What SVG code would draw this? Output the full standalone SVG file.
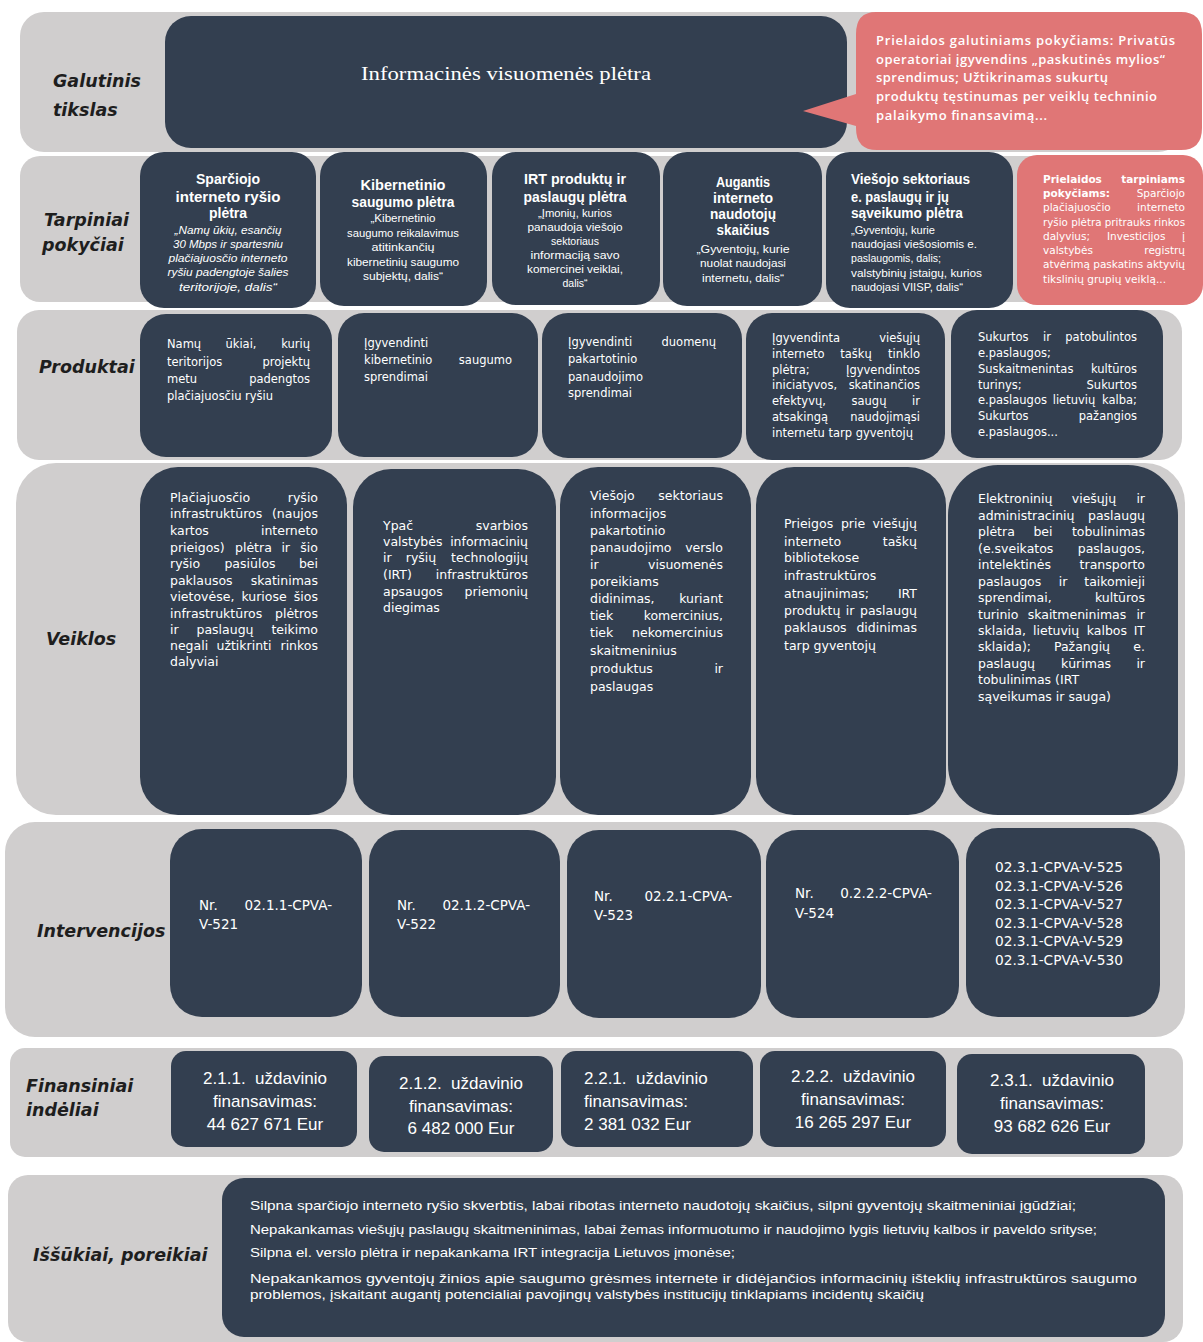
<svg xmlns="http://www.w3.org/2000/svg" width="1203" height="1342" viewBox="0 0 1203 1342">
<style>
.gb{fill:#d0cece}
.bx{fill:#333f50}
.rd{fill:#e07676}
.lbl{font-family:"DejaVu Sans",sans-serif;font-weight:bold;font-style:italic;font-size:17.5px;fill:#1e1e1e}
.w{fill:#fff;font-family:"Liberation Sans",sans-serif}
.ttl{font-size:14px;font-weight:bold;text-anchor:middle}
.ttlL{font-size:14px;font-weight:bold}
.sm{font-size:10.5px;text-anchor:middle}
.smi{font-size:10.5px;font-style:italic;text-anchor:middle}
.smL{font-size:10.5px}
.p{font-size:11.5px;font-family:"DejaVu Sans",sans-serif}
.v{font-size:12.5px;font-family:"DejaVu Sans",sans-serif}
.iv{font-size:13.5px;font-family:"DejaVu Sans",sans-serif}
.fin{font-size:17px;text-anchor:middle}
.finL{font-size:17px}
.ch{font-size:13px}
.cal{font-family:"Open Sans","Liberation Sans",sans-serif;font-weight:600;font-size:13px;fill:#fff}
.rb{font-size:10.5px;font-family:"DejaVu Sans",sans-serif}
.e{text-anchor:end}
.m{text-anchor:middle}
.b{font-weight:bold}
</style>
<rect width="1203" height="1342" fill="#fff"/>

<g id="bands">
<rect class="gb" x="20" y="12" width="1162" height="140" rx="24"/>
<rect class="gb" x="20" y="156" width="1162" height="146" rx="20"/>
<rect class="gb" x="17" y="310" width="1165" height="150" rx="22"/>
<rect class="gb" x="16" y="463" width="1169" height="352" rx="40"/>
<rect class="gb" x="5" y="822" width="1180" height="215" rx="30"/>
<rect class="gb" x="10" y="1048" width="1173" height="109" rx="15"/>
<rect class="gb" x="8" y="1175" width="1175" height="167" rx="20"/>
</g>

<g id="labels">
<text class="lbl" x="53" y="87">Galutinis</text>
<text class="lbl" x="53" y="116">tikslas</text>
<text class="lbl" x="44" y="226">Tarpiniai</text>
<text class="lbl" x="42" y="251">pokyčiai</text>
<text class="lbl" x="39" y="373">Produktai</text>
<text class="lbl" x="46" y="645">Veiklos</text>
<text class="lbl" x="37" y="937">Intervencijos</text>
<text class="lbl" x="26" y="1092">Finansiniai</text>
<text class="lbl" x="26" y="1116">indėliai</text>
<text class="lbl" x="33" y="1261">Iššūkiai, poreikiai</text>
</g>

<g id="connectors"></g>

<!-- Row 1 -->
<g id="goal">
<rect class="bx" x="165" y="16" width="682" height="132" rx="26"/>
<text x="506" y="80" fill="#fff" font-family="Liberation Serif, serif" font-size="19" text-anchor="middle" textLength="290" lengthAdjust="spacingAndGlyphs">Informacinės visuomenės plėtra</text>
</g>
<g id="assume-final">
<path class="rd" d="M876 12 H1181 Q1202 12 1202 34 V128 Q1202 150 1181 150 H877 Q856 150 856 128 V126 L803 111 L856 94 V34 Q856 12 876 12 Z"/>
<text class="cal" x="876" y="44.5" textLength="299" lengthAdjust="spacing">Prielaidos galutiniams pokyčiams: Privatūs</text>
<text class="cal" x="876" y="64" textLength="289" lengthAdjust="spacing">operatoriai įgyvendins „paskutinės mylios“</text>
<text class="cal" x="876" y="82" textLength="232" lengthAdjust="spacing">sprendimus; Užtikrinamas sukurtų</text>
<text class="cal" x="876" y="101" textLength="281" lengthAdjust="spacing">produktų tęstinumas per veiklų techninio</text>
<text class="cal" x="876" y="120" textLength="171" lengthAdjust="spacing">palaikymo finansavimą...</text>
</g>

<!-- Row 2 -->
<g id="t1">
<rect class="bx" x="140" y="152" width="176" height="156" rx="24"/>
<text class="w ttl" x="228" y="184" textLength="64" lengthAdjust="spacingAndGlyphs">Sparčiojo</text>
<text class="w ttl" x="228" y="202" textLength="105" lengthAdjust="spacingAndGlyphs">interneto ryšio</text>
<text class="w ttl" x="228" y="218">plėtra</text>
<text class="w smi" x="228" y="234" textLength="107" lengthAdjust="spacingAndGlyphs">„Namų ūkių, esančių</text>
<text class="w smi" x="228" y="248" textLength="110" lengthAdjust="spacingAndGlyphs">30 Mbps ir spartesniu</text>
<text class="w smi" x="228" y="262" textLength="119" lengthAdjust="spacingAndGlyphs">plačiajuosčio interneto</text>
<text class="w smi" x="228" y="276" textLength="121" lengthAdjust="spacingAndGlyphs">ryšiu padengtoje šalies</text>
<text class="w smi" x="228" y="291" textLength="98" lengthAdjust="spacingAndGlyphs">teritorijoje, dalis“</text>
</g>
<g id="t2">
<rect class="bx" x="320" y="152" width="167" height="154" rx="24"/>
<text class="w ttl" x="403" y="190" textLength="85" lengthAdjust="spacingAndGlyphs">Kibernetinio</text>
<text class="w ttl" x="403" y="207" textLength="103" lengthAdjust="spacingAndGlyphs">saugumo plėtra</text>
<text class="w sm" x="403" y="221.5" textLength="65" lengthAdjust="spacingAndGlyphs">„Kibernetinio</text>
<text class="w sm" x="403" y="236.5" textLength="112" lengthAdjust="spacingAndGlyphs">saugumo reikalavimus</text>
<text class="w sm" x="403" y="250.5" textLength="63" lengthAdjust="spacingAndGlyphs">atitinkančių</text>
<text class="w sm" x="403" y="265.5" textLength="112" lengthAdjust="spacingAndGlyphs">kibernetinių saugumo</text>
<text class="w sm" x="403" y="279.5" textLength="80" lengthAdjust="spacingAndGlyphs">subjektų, dalis“</text>
</g>
<g id="t3">
<rect class="bx" x="492" y="152" width="168" height="153" rx="24"/>
<text class="w ttl" x="575" y="184" textLength="102" lengthAdjust="spacingAndGlyphs">IRT produktų ir</text>
<text class="w ttl" x="575" y="202" textLength="103" lengthAdjust="spacingAndGlyphs">paslaugų plėtra</text>
<text class="w sm" x="575" y="216.5" textLength="74" lengthAdjust="spacingAndGlyphs">„Įmonių, kurios</text>
<text class="w sm" x="575" y="230.5" textLength="95" lengthAdjust="spacingAndGlyphs">panaudoja viešojo</text>
<text class="w sm" x="575" y="244.5">sektoriaus</text>
<text class="w sm" x="575" y="258.5" textLength="89" lengthAdjust="spacingAndGlyphs">informaciją savo</text>
<text class="w sm" x="575" y="272.5" textLength="96" lengthAdjust="spacingAndGlyphs">komercinei veiklai,</text>
<text class="w sm" x="575" y="286.5">dalis“</text>
</g>
<g id="t4">
<rect class="bx" x="663" y="152" width="159" height="154" rx="24"/>
<text class="w ttl" x="743" y="187" textLength="54" lengthAdjust="spacingAndGlyphs">Augantis</text>
<text class="w ttl" x="743" y="203" textLength="60" lengthAdjust="spacingAndGlyphs">interneto</text>
<text class="w ttl" x="743" y="219" textLength="66" lengthAdjust="spacingAndGlyphs">naudotojų</text>
<text class="w ttl" x="743" y="235" textLength="53" lengthAdjust="spacingAndGlyphs">skaičius</text>
<text class="w sm" x="743" y="252.5" textLength="93" lengthAdjust="spacingAndGlyphs">„Gyventojų, kurie</text>
<text class="w sm" x="743" y="266.5" textLength="86" lengthAdjust="spacingAndGlyphs">nuolat naudojasi</text>
<text class="w sm" x="743" y="281.5" textLength="82" lengthAdjust="spacingAndGlyphs">internetu, dalis“</text>
</g>
<g id="t5">
<rect class="bx" x="826" y="152" width="187" height="156" rx="24"/>
<text class="w ttlL" x="851" y="184" textLength="119" lengthAdjust="spacingAndGlyphs">Viešojo sektoriaus</text>
<text class="w ttlL" x="851" y="202" textLength="98" lengthAdjust="spacingAndGlyphs">e. paslaugų ir jų</text>
<text class="w ttlL" x="851" y="218" textLength="112" lengthAdjust="spacingAndGlyphs">sąveikumo plėtra</text>
<text class="w smL" x="851" y="233.5" textLength="84" lengthAdjust="spacingAndGlyphs">„Gyventojų, kurie</text>
<text class="w smL" x="851" y="247.5" textLength="126" lengthAdjust="spacingAndGlyphs">naudojasi viešosiomis e.</text>
<text class="w smL" x="851" y="261.5" textLength="90" lengthAdjust="spacingAndGlyphs">paslaugomis, dalis;</text>
<text class="w smL" x="851" y="276.5" textLength="131" lengthAdjust="spacingAndGlyphs">valstybinių įstaigų, kurios</text>
<text class="w smL" x="851" y="290.5" textLength="112" lengthAdjust="spacingAndGlyphs">naudojasi VIISP, dalis“</text>
</g>
<g id="assume-inter">
<rect class="rd" x="1017" y="155" width="186" height="150" rx="20"/>
<text class="w rb b" x="1043" y="183">Prielaidos</text><text class="w rb b e" x="1185" y="183">tarpiniams</text>
<text class="w rb b" x="1043" y="197">pokyčiams:</text><text class="w rb e" x="1185" y="197">Sparčiojo</text>
<text class="w rb" x="1043" y="211">plačiajuosčio</text><text class="w rb e" x="1185" y="211">interneto</text>
<text class="w rb" x="1043" y="225.5" textLength="142" lengthAdjust="spacingAndGlyphs">ryšio plėtra pritrauks rinkos</text>
<text class="w rb" x="1043" y="239.5">dalyvius;</text><text class="w rb" x="1107" y="239.5">Investicijos</text><text class="w rb e" x="1185" y="239.5">į</text>
<text class="w rb" x="1043" y="253.5">valstybės</text><text class="w rb e" x="1185" y="253.5">registrų</text>
<text class="w rb" x="1043" y="267.5" textLength="142" lengthAdjust="spacing">atvėrimą paskatins aktyvių</text>
<text class="w rb" x="1043" y="282.5" textLength="123" lengthAdjust="spacing">tikslinių grupių veiklą...</text>
</g>

<!-- Row 3 Produktai -->
<g id="p1">
<rect class="bx" x="140" y="314" width="192" height="143" rx="26"/>
<text class="w p" x="167" y="347.5">Namų</text><text class="w p m" x="241" y="347.5">ūkiai,</text><text class="w p e" x="310" y="347.5">kurių</text>
<text class="w p" x="167" y="365.5">teritorijos</text><text class="w p e" x="310" y="365.5">projektų</text>
<text class="w p" x="167" y="382.5">metu</text><text class="w p e" x="310" y="382.5">padengtos</text>
<text class="w p" x="167" y="399.5">plačiajuosčiu ryšiu</text>
</g>
<g id="p2">
<rect class="bx" x="338" y="313" width="200" height="144" rx="26"/>
<text class="w p" x="364" y="346.5">Įgyvendinti</text>
<text class="w p" x="364" y="363.5">kibernetinio</text><text class="w p e" x="512" y="363.5">saugumo</text>
<text class="w p" x="364" y="380.5">sprendimai</text>
</g>
<g id="p3">
<rect class="bx" x="542" y="313" width="200" height="145" rx="26"/>
<text class="w p" x="568" y="345.5">Įgyvendinti</text><text class="w p e" x="716" y="345.5">duomenų</text>
<text class="w p" x="568" y="362.5">pakartotinio</text>
<text class="w p" x="568" y="380.5">panaudojimo</text>
<text class="w p" x="568" y="396.5">sprendimai</text>
</g>
<g id="p4">
<rect class="bx" x="746" y="313" width="199" height="147" rx="26"/>
<text class="w p" x="772" y="341.5">Įgyvendinta</text><text class="w p e" x="920" y="341.5">viešųjų</text>
<text class="w p" x="772" y="357.5">interneto</text><text class="w p m" x="856" y="357.5">taškų</text><text class="w p e" x="920" y="357.5">tinklo</text>
<text class="w p" x="772" y="373.5">plėtra;</text><text class="w p e" x="920" y="373.5">Įgyvendintos</text>
<text class="w p" x="772" y="388.5">iniciatyvos,</text><text class="w p e" x="920" y="388.5">skatinančios</text>
<text class="w p" x="772" y="404.5">efektyvų,</text><text class="w p m" x="869" y="404.5">saugų</text><text class="w p e" x="920" y="404.5">ir</text>
<text class="w p" x="772" y="420.5">atsakingą</text><text class="w p e" x="920" y="420.5">naudojimąsi</text>
<text class="w p" x="772" y="436.5">internetu tarp gyventojų</text>
</g>
<g id="p5">
<rect class="bx" x="951" y="310" width="212" height="148" rx="26"/>
<text class="w p" x="978" y="340.5">Sukurtos</text><text class="w p m" x="1047" y="340.5">ir</text><text class="w p e" x="1137" y="340.5">patobulintos</text>
<text class="w p" x="978" y="356.5">e.paslaugos;</text>
<text class="w p" x="978" y="372.5">Suskaitmenintas</text><text class="w p e" x="1137" y="372.5">kultūros</text>
<text class="w p" x="978" y="388.5">turinys;</text><text class="w p e" x="1137" y="388.5">Sukurtos</text>
<text class="w p" x="978" y="403.5">e.paslaugos</text><text class="w p m" x="1074" y="403.5">lietuvių</text><text class="w p e" x="1137" y="403.5">kalba;</text>
<text class="w p" x="978" y="419.5">Sukurtos</text><text class="w p e" x="1137" y="419.5">pažangios</text>
<text class="w p" x="978" y="435.5">e.paslaugos...</text>
</g>

<!-- Row 4 Veiklos -->
<g id="v1">
<rect class="bx" x="140" y="467" width="207" height="348" rx="38"/>
<text class="w v" x="170" y="501.5">Plačiajuosčio</text><text class="w v e" x="318" y="501.5">ryšio</text>
<text class="w v" x="170" y="517.5">infrastruktūros</text><text class="w v e" x="318" y="517.5">(naujos</text>
<text class="w v" x="170" y="534.5">kartos</text><text class="w v e" x="318" y="534.5">interneto</text>
<text class="w v" x="170" y="551.5">prieigos)</text><text class="w v" x="235" y="551.5">plėtra</text><text class="w v e" x="290" y="551.5">ir</text><text class="w v e" x="318" y="551.5">šio</text>
<text class="w v" x="170" y="567.5">ryšio</text><text class="w v m" x="250" y="567.5">pasiūlos</text><text class="w v e" x="318" y="567.5">bei</text>
<text class="w v" x="170" y="584.5">paklausos</text><text class="w v e" x="318" y="584.5">skatinimas</text>
<text class="w v" x="170" y="600.5">vietovėse,</text><text class="w v m" x="264" y="600.5">kuriose</text><text class="w v e" x="318" y="600.5">šios</text>
<text class="w v" x="170" y="617.5">infrastruktūros</text><text class="w v e" x="318" y="617.5">plėtros</text>
<text class="w v" x="170" y="633.5">ir</text><text class="w v m" x="225" y="633.5">paslaugų</text><text class="w v e" x="318" y="633.5">teikimo</text>
<text class="w v" x="170" y="649.5">negali</text><text class="w v m" x="244" y="649.5">užtikrinti</text><text class="w v e" x="318" y="649.5">rinkos</text>
<text class="w v" x="170" y="665.5">dalyviai</text>
</g>
<g id="v2">
<rect class="bx" x="353" y="469" width="203" height="346" rx="38"/>
<text class="w v" x="383" y="529.5">Ypač</text><text class="w v e" x="528" y="529.5">svarbios</text>
<text class="w v" x="383" y="545.5">valstybės</text><text class="w v e" x="528" y="545.5">informacinių</text>
<text class="w v" x="383" y="561.5">ir</text><text class="w v m" x="421" y="561.5">ryšių</text><text class="w v e" x="528" y="561.5">technologijų</text>
<text class="w v" x="383" y="578.5">(IRT)</text><text class="w v e" x="528" y="578.5">infrastruktūros</text>
<text class="w v" x="383" y="595.5">apsaugos</text><text class="w v e" x="528" y="595.5">priemonių</text>
<text class="w v" x="383" y="611.5">diegimas</text>
</g>
<g id="v3">
<rect class="bx" x="560" y="467" width="191" height="348" rx="38"/>
<text class="w v" x="590" y="499.5">Viešojo</text><text class="w v e" x="723" y="499.5">sektoriaus</text>
<text class="w v" x="590" y="517.5">informacijos</text>
<text class="w v" x="590" y="534.5">pakartotinio</text>
<text class="w v" x="590" y="551.5">panaudojimo</text><text class="w v e" x="723" y="551.5">verslo</text>
<text class="w v" x="590" y="568.5">ir</text><text class="w v e" x="723" y="568.5">visuomenės</text>
<text class="w v" x="590" y="585.5">poreikiams</text>
<text class="w v" x="590" y="602.5">didinimas,</text><text class="w v e" x="723" y="602.5">kuriant</text>
<text class="w v" x="590" y="619.5">tiek</text><text class="w v e" x="723" y="619.5">komercinius,</text>
<text class="w v" x="590" y="636.5">tiek</text><text class="w v e" x="723" y="636.5">nekomercinius</text>
<text class="w v" x="590" y="654.5">skaitmeninius</text>
<text class="w v" x="590" y="672.5">produktus</text><text class="w v e" x="723" y="672.5">ir</text>
<text class="w v" x="590" y="690.5">paslaugas</text>
</g>
<g id="v4">
<rect class="bx" x="756" y="467" width="190" height="348" rx="38"/>
<text class="w v" x="784" y="527.5">Prieigos</text><text class="w v m" x="853" y="527.5">prie</text><text class="w v e" x="917" y="527.5">viešųjų</text>
<text class="w v" x="784" y="545.5">interneto</text><text class="w v e" x="917" y="545.5">taškų</text>
<text class="w v" x="784" y="561.5">bibliotekose</text>
<text class="w v" x="784" y="579.5">infrastruktūros</text>
<text class="w v" x="784" y="597.5">atnaujinimas;</text><text class="w v e" x="917" y="597.5">IRT</text>
<text class="w v" x="784" y="614.5">produktų</text><text class="w v m" x="850" y="614.5">ir</text><text class="w v e" x="917" y="614.5">paslaugų</text>
<text class="w v" x="784" y="631.5">paklausos</text><text class="w v e" x="917" y="631.5">didinimas</text>
<text class="w v" x="784" y="649.5">tarp gyventojų</text>
</g>
<g id="v5">
<rect class="bx" x="948" y="465" width="230" height="350" rx="50"/>
<text class="w v" x="978" y="502.5">Elektroninių</text><text class="w v m" x="1094" y="502.5">viešųjų</text><text class="w v e" x="1145" y="502.5">ir</text>
<text class="w v" x="978" y="519.5">administracinių</text><text class="w v e" x="1145" y="519.5">paslaugų</text>
<text class="w v" x="978" y="535.5">plėtra</text><text class="w v m" x="1043" y="535.5">bei</text><text class="w v e" x="1145" y="535.5">tobulinimas</text>
<text class="w v" x="978" y="552.5">(e.sveikatos</text><text class="w v e" x="1145" y="552.5">paslaugos,</text>
<text class="w v" x="978" y="568.5">intelektinės</text><text class="w v e" x="1145" y="568.5">transporto</text>
<text class="w v" x="978" y="585.5">paslaugos</text><text class="w v m" x="1063" y="585.5">ir</text><text class="w v e" x="1145" y="585.5">taikomieji</text>
<text class="w v" x="978" y="601.5">sprendimai,</text><text class="w v e" x="1145" y="601.5">kultūros</text>
<text class="w v" x="978" y="618.5">turinio</text><text class="w v m" x="1077" y="618.5">skaitmeninimas</text><text class="w v e" x="1145" y="618.5">ir</text>
<text class="w v" x="978" y="634.5">sklaida,</text><text class="w v" x="1033" y="634.5">lietuvių</text><text class="w v e" x="1127" y="634.5">kalbos</text><text class="w v e" x="1145" y="634.5">IT</text>
<text class="w v" x="978" y="650.5">sklaida);</text><text class="w v m" x="1082" y="650.5">Pažangių</text><text class="w v e" x="1145" y="650.5">e.</text>
<text class="w v" x="978" y="667.5">paslaugų</text><text class="w v m" x="1086" y="667.5">kūrimas</text><text class="w v e" x="1145" y="667.5">ir</text>
<text class="w v" x="978" y="683.5">tobulinimas (IRT</text>
<text class="w v" x="978" y="700.5">sąveikumas ir sauga)</text>
</g>

<!-- Row 5 Intervencijos -->
<g id="i1">
<rect class="bx" x="170" y="829" width="192" height="188" rx="32"/>
<text class="w iv" x="199" y="910">Nr.</text><text class="w iv e" x="332" y="910">02.1.1-CPVA-</text>
<text class="w iv" x="199" y="929">V-521</text>
</g>
<g id="i2">
<rect class="bx" x="369" y="830" width="191" height="187" rx="32"/>
<text class="w iv" x="397" y="910">Nr.</text><text class="w iv e" x="530" y="910">02.1.2-CPVA-</text>
<text class="w iv" x="397" y="929">V-522</text>
</g>
<g id="i3">
<rect class="bx" x="567" y="830" width="194" height="188" rx="32"/>
<text class="w iv" x="594" y="901">Nr.</text><text class="w iv e" x="732" y="901">02.2.1-CPVA-</text>
<text class="w iv" x="594" y="920">V-523</text>
</g>
<g id="i4">
<rect class="bx" x="766" y="830" width="193" height="188" rx="32"/>
<text class="w iv" x="795" y="898">Nr.</text><text class="w iv e" x="932" y="898">0.2.2.2-CPVA-</text>
<text class="w iv" x="795" y="918">V-524</text>
</g>
<g id="i5">
<rect class="bx" x="966" y="828" width="194" height="189" rx="32"/>
<text class="w iv" x="995" y="872" textLength="128" lengthAdjust="spacingAndGlyphs">02.3.1-CPVA-V-525</text>
<text class="w iv" x="995" y="891" textLength="128" lengthAdjust="spacingAndGlyphs">02.3.1-CPVA-V-526</text>
<text class="w iv" x="995" y="909" textLength="128" lengthAdjust="spacingAndGlyphs">02.3.1-CPVA-V-527</text>
<text class="w iv" x="995" y="928" textLength="128" lengthAdjust="spacingAndGlyphs">02.3.1-CPVA-V-528</text>
<text class="w iv" x="995" y="946" textLength="128" lengthAdjust="spacingAndGlyphs">02.3.1-CPVA-V-529</text>
<text class="w iv" x="995" y="965" textLength="128" lengthAdjust="spacingAndGlyphs">02.3.1-CPVA-V-530</text>
</g>

<!-- Row 6 Finansiniai -->
<g id="f1">
<rect class="bx" x="171" y="1051" width="186" height="96" rx="15"/>
<text class="w fin" x="265" y="1084" xml:space="preserve">2.1.1.  uždavinio</text>
<text class="w fin" x="265" y="1107">finansavimas:</text>
<text class="w fin" x="265" y="1130">44 627 671 Eur</text>
</g>
<g id="f2">
<rect class="bx" x="369" y="1056" width="184" height="96" rx="15"/>
<text class="w fin" x="461" y="1089" xml:space="preserve">2.1.2.  uždavinio</text>
<text class="w fin" x="461" y="1112">finansavimas:</text>
<text class="w fin" x="461" y="1134">6 482 000 Eur</text>
</g>
<g id="f3">
<rect class="bx" x="561" y="1051" width="192" height="96" rx="15"/>
<text class="w finL" x="584" y="1084" xml:space="preserve">2.2.1.  uždavinio</text>
<text class="w finL" x="584" y="1107">finansavimas:</text>
<text class="w finL" x="584" y="1130">2 381 032 Eur</text>
</g>
<g id="f4">
<rect class="bx" x="760" y="1051" width="186" height="96" rx="15"/>
<text class="w fin" x="853" y="1082" xml:space="preserve">2.2.2.  uždavinio</text>
<text class="w fin" x="853" y="1105">finansavimas:</text>
<text class="w fin" x="853" y="1128">16 265 297 Eur</text>
</g>
<g id="f5">
<rect class="bx" x="957" y="1054" width="188" height="100" rx="15"/>
<text class="w fin" x="1052" y="1086" xml:space="preserve">2.3.1.  uždavinio</text>
<text class="w fin" x="1052" y="1109">finansavimas:</text>
<text class="w fin" x="1052" y="1132">93 682 626 Eur</text>
</g>

<!-- Row 7 -->
<g id="challenges">
<rect class="bx" x="222" y="1178" width="943" height="159" rx="22"/>
<text class="w ch" x="250" y="1210" textLength="826" lengthAdjust="spacingAndGlyphs">Silpna sparčiojo interneto ryšio skverbtis, labai ribotas interneto naudotojų skaičius, silpni gyventojų skaitmeniniai įgūdžiai;</text>
<text class="w ch" x="250" y="1234" textLength="847" lengthAdjust="spacingAndGlyphs">Nepakankamas viešųjų paslaugų skaitmeninimas, labai žemas informuotumo ir naudojimo lygis lietuvių kalbos ir paveldo srityse;</text>
<text class="w ch" x="250" y="1257" textLength="485" lengthAdjust="spacingAndGlyphs">Silpna el. verslo plėtra ir nepakankama IRT integracija Lietuvos įmonėse;</text>
<text class="w ch" x="250" y="1283" textLength="887" lengthAdjust="spacingAndGlyphs">Nepakankamos gyventojų žinios apie  saugumo grėsmes internete ir didėjančios informacinių išteklių infrastruktūros saugumo</text>
<text class="w ch" x="250" y="1299" textLength="674" lengthAdjust="spacingAndGlyphs">problemos, įskaitant augantį potencialiai pavojingų valstybės institucijų tinklapiams incidentų skaičių</text>
</g>
</svg>
